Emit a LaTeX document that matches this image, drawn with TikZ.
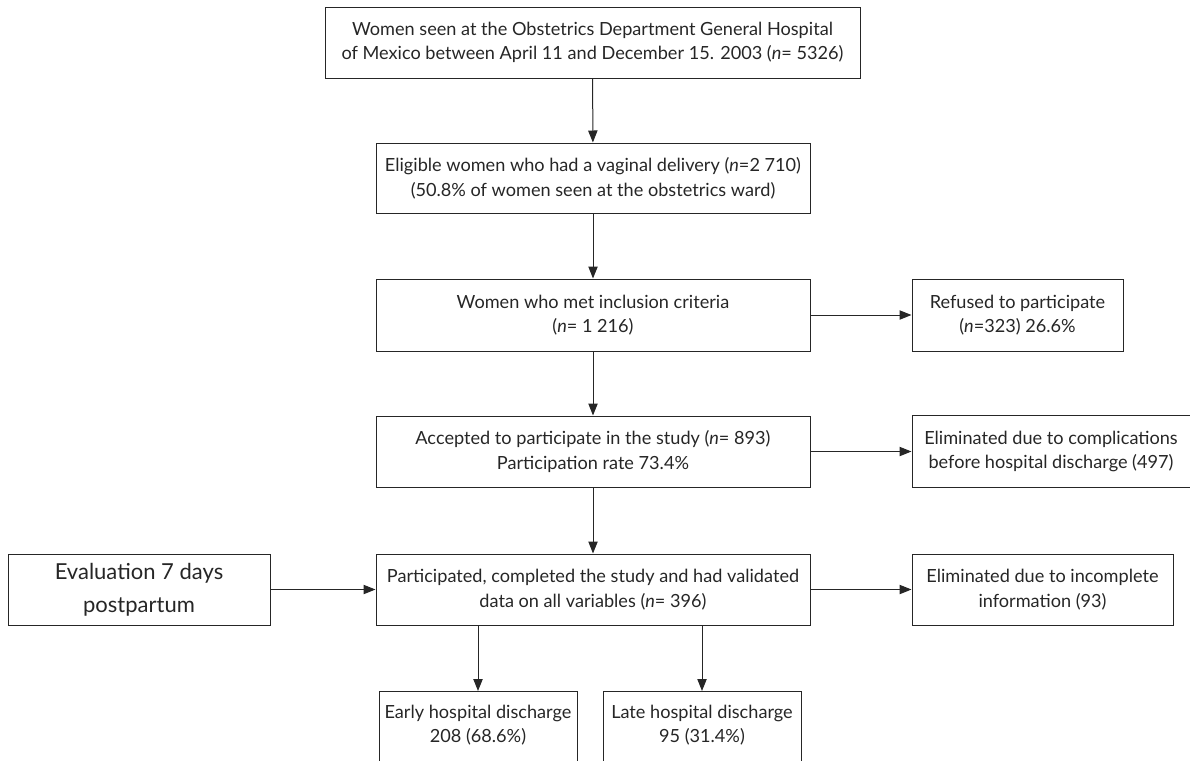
\documentclass[tikz,border=0pt]{standalone}
\usepackage{fontspec}
\setmainfont{Lato}
\usetikzlibrary{arrows.meta}

\begin{document}
\begin{tikzpicture}[x=0.75pt, y=-0.75pt,
	box/.style={draw=black!85, line width=0.75pt, align=center, inner sep=0pt, text=black!85, font=\fontsize{13.6}{18.5}\selectfont},
	arr/.style={draw=black!85, line width=0.75pt, -{Triangle[length=9pt, width=7pt]}}]
			%%%%% START %%%%%
			
			\useasboundingbox (0, 0) rectangle (1190, 761);
			
			% main column
			\node[box, minimum width=401.25pt, minimum height=53.25pt] (seen) at (592.5, 42.5) {Women seen at the Obstetrics Department General Hospital\\of Mexico between April 11 and December 15. 2003 (\textit{n}= 5326)};
			\node[box, minimum width=325.5pt, minimum height=52.5pt] (eligible) at (593, 178) {Eligible women who had a vaginal delivery (\textit{n}=2 710)\\(50.8\% of women seen at the obstetrics ward)};
			\node[box, minimum width=325.5pt, minimum height=54pt] (criteria) at (593, 315) {Women who met inclusion criteria\\(\textit{n}= 1 216)};
			\node[box, minimum width=325.5pt, minimum height=53.25pt] (accepted) at (593, 451.5) {Accepted to participate in the study (\textit{n}= 893)\\Participation rate 73.4\%};
			\node[box, minimum width=325.5pt, minimum height=53.25pt] (study) at (593, 589.5) {Participated, completed the study and had validated\\data on all variables (\textit{n}= 396)};
			
			% side boxes
			\node[box, minimum width=158.25pt, minimum height=54pt] (refused) at (1017.5, 315) {Refused to participate\\(\textit{n}=323) 26.6\%};
			\node[box, minimum width=208.5pt, minimum height=54pt] (complic) at (1051, 451.5) {Eliminated due to complications\\before hospital discharge (497)};
			\node[box, minimum width=195.75pt, minimum height=53.25pt] (incomplete) at (1042.5, 589.5) {Eliminated due to incomplete\\information (93)};
			\node[box, minimum width=196.5pt, minimum height=53.25pt, font=\fontsize{16.5}{24.5}\selectfont] (evaluation) at (139, 589.5) {Evaluation 7 days\\postpartum};
			
			% outcome boxes, cut by the page edge
			\node[box, anchor=north, minimum width=148.5pt, inner ysep=10pt, text depth=40pt] (early) at (478, 691) {Early hospital discharge\\208 (68.6\%)};
			\node[box, anchor=north, minimum width=148.5pt, inner ysep=10pt, text depth=40pt] (late) at (702, 691) {Late hospital discharge\\95 (31.4\%)};
			
			% arrows
			\draw[arr] (seen) -- (eligible);
			\draw[arr] (eligible) -- (criteria);
			\draw[arr] (criteria) -- (accepted);
			\draw[arr] (accepted) -- (study);
			\draw[arr] (criteria) -- (refused);
			\draw[arr] (accepted) -- (complic);
			\draw[arr] (study) -- (incomplete);
			\draw[arr] (evaluation) -- (study);
			\draw[arr] (early.north |- study.south) -- (early.north);
			\draw[arr] (late.north |- study.south) -- (late.north);
			
			%%%%% END %%%%%
\end{tikzpicture}
\end{document}
